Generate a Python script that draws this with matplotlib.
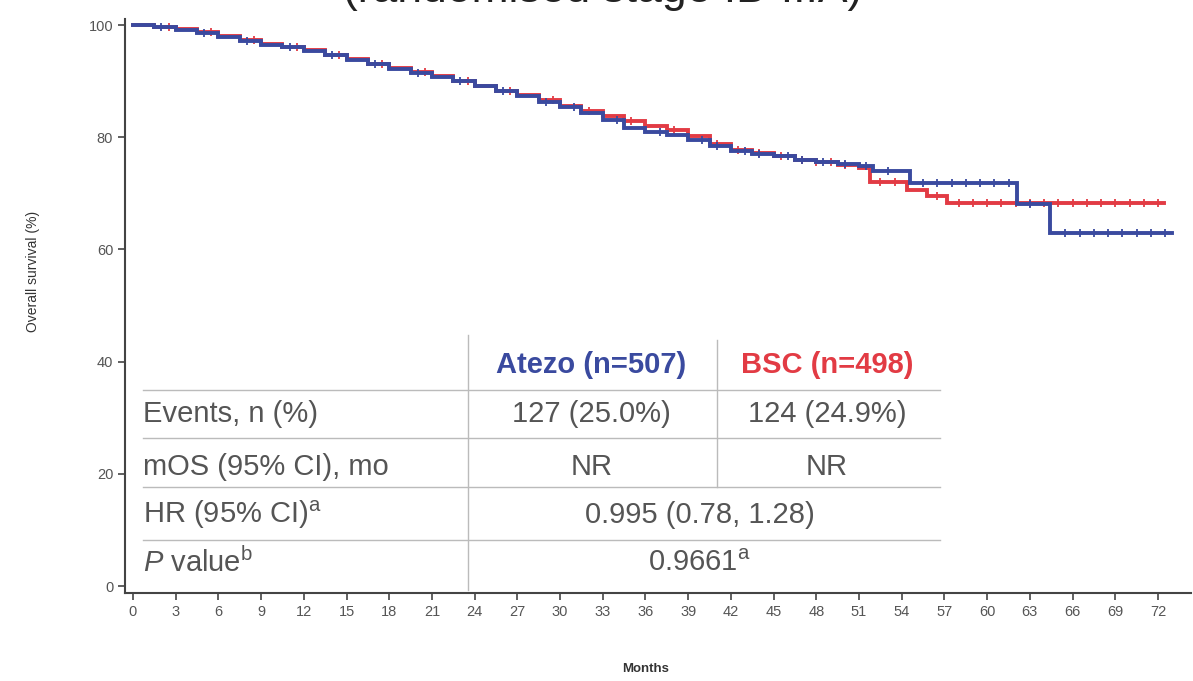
import numpy as np
import matplotlib
matplotlib.use('Agg')
import matplotlib.pyplot as plt

plt.rcParams['font.family'] = ['Liberation Sans', 'DejaVu Sans']
plt.rcParams['mathtext.fontset'] = 'custom'
plt.rcParams['mathtext.rm'] = 'Liberation Sans'
plt.rcParams['mathtext.it'] = 'Liberation Sans:italic'

#----------survival curves (step points)----------
atezo_t = [0, 1.5, 3, 4.5, 6, 7.5, 9, 10.5, 12, 13.5, 15, 16.5, 18, 19.5, 21, 22.5,
           24, 25.5, 27, 28.5, 30, 31.5, 33, 34.5, 36, 37.5, 39, 40.5, 42, 43.5,
           45, 46.5, 48, 49.5, 51, 52, 54.6, 62.1, 64.4]
atezo_s = [100, 99.6, 99.1, 98.6, 97.9, 97.2, 96.5, 96.0, 95.4, 94.6, 93.8, 93.0,
           92.2, 91.5, 90.8, 90.0, 89.1, 88.2, 87.3, 86.3, 85.3, 84.4, 83.0, 81.6,
           81.0, 80.4, 79.5, 78.4, 77.6, 77.0, 76.6, 76.0, 75.6, 75.2, 74.8, 74.0,
           71.8, 68.1, 63.0]
atezo_end = 73.0

bsc_t = [0, 1.5, 3, 4.5, 6, 7.5, 9, 10.5, 12, 13.5, 15, 16.5, 18, 19.5, 21, 22.5,
         24, 25.5, 27, 28.5, 30, 31.5, 33, 34.5, 36, 37.5, 39, 40.5, 42, 43.5,
         45, 46.5, 48, 49.5, 51, 51.8, 54.4, 55.8, 57.2]
bsc_s = [100, 99.7, 99.3, 98.7, 98.0, 97.3, 96.6, 96.1, 95.5, 94.7, 93.9, 93.1,
         92.4, 91.7, 90.9, 90.1, 89.2, 88.3, 87.5, 86.6, 85.6, 84.6, 83.8, 82.9,
         82.0, 81.3, 80.2, 78.8, 77.8, 77.1, 76.6, 76.0, 75.5, 75.0, 74.6, 72.0,
         70.6, 69.6, 68.3]
bsc_end = 72.4

# censoring times
atezo_cens = [2, 5, 8, 11, 14, 17, 20, 23, 26, 29, 31, 34, 37, 40, 41, 43, 44, 46, 47,
              48.5, 50, 51.5, 53, 55.5, 56.5, 57.5, 58.5, 59.5, 60.5, 61.5, 63, 65.5,
              66.5, 67.5, 68.5, 69.5, 70.5, 71.5, 72.5]
bsc_cens = [2.5, 5.5, 8.5, 11.5, 14.5, 17.5, 20.5, 23.5, 26.5, 29.5, 32, 35, 38, 41,
            42.5, 44, 45.5, 47, 48, 49, 50, 52.5, 53.5, 56.5, 58, 59, 60, 61, 62,
            63, 64, 65, 66, 67, 68, 69, 70, 71, 72]

x_ticks = list(range(0, 73, 3))
y_ticks = [0, 20, 40, 60, 80, 100]

row_labels = ['Events, n (%)', 'mOS (95% CI), mo', r'HR (95% CI)$^{\mathrm{a}}$',
              r'$\mathit{P}$ value$^{\mathrm{b}}$']
atezo_col = ['127 (25.0%)', 'NR']
bsc_col = ['124 (24.9%)', 'NR']
merged_col = ['0.995 (0.78, 1.28)', r'0.9661$^{\mathrm{a}}$']

blue = '#3A4A9F'
red = '#E23B44'
gray = '#555555'


def step_at(t, s, x):
    idx = np.searchsorted(t, x, side='right') - 1
    return np.asarray(s)[idx]


fig = plt.figure(figsize=(11.93, 6.81), dpi=100)
ax = fig.add_axes([0.1048, 0.1292, 0.8933, 0.8423])

for t, s, end, cens, col in [(bsc_t, bsc_s, bsc_end, bsc_cens, red),
                             (atezo_t, atezo_s, atezo_end, atezo_cens, blue)]:
    tt = list(t) + [end]
    ss = list(s) + [s[-1]]
    ax.step(tt, ss, where='post', color=col, lw=2.8, solid_joinstyle='miter')
    ax.plot(cens, step_at(t, s, cens), '|', color=col, ms=6, mew=1.3)

ax.set_xlim(-0.56, 74.3)
ax.set_ylim(-1.25, 101)
ax.set_xticks(x_ticks)
ax.set_yticks(y_ticks)
ax.tick_params(colors='#444444', labelcolor=gray, labelsize=10.5, length=5, width=1.2)
for sp in ['top', 'right']:
    ax.spines[sp].set_visible(False)
for sp in ['left', 'bottom']:
    ax.spines[sp].set_color('#444444')
    ax.spines[sp].set_linewidth(1.5)
ax.set_ylabel('Overall survival (%)', fontsize=10, color='#333333')
ax.yaxis.set_label_coords(-0.080, 0.56)
ax.set_xlabel('Months', fontsize=9.5, color='#333333', fontweight='bold')
ax.xaxis.set_label_coords(0.488, -0.122)

#----------table inside the plot----------
line_kw = dict(color='#BBBBBB', lw=1.0)
for yl in [35.0, 26.4, 17.6, 8.2]:
    ax.plot([0.7, 56.7], [yl, yl], **line_kw)
ax.plot([23.5, 23.5], [-0.7, 44.7], **line_kw)
ax.plot([41.0, 41.0], [17.6, 43.9], **line_kw)

fs = 21
col2_x, col3_x, merged_x = 32.2, 48.75, 39.8
ax.text(col2_x, 39.4, 'Atezo (n=507)', color=blue, fontsize=fs, fontweight='bold',
        ha='center', va='center')
ax.text(col3_x, 39.4, 'BSC (n=498)', color=red, fontsize=fs, fontweight='bold',
        ha='center', va='center')
row_y = [30.6, 21.3, 12.7, 4.1]
for yv, lab in zip(row_y, row_labels):
    ax.text(0.7, yv, lab, color=gray, fontsize=fs, ha='left', va='center')
for yv, a, b in zip(row_y[:2], atezo_col, bsc_col):
    ax.text(col2_x, yv, a, color=gray, fontsize=fs, ha='center', va='center')
    ax.text(col3_x, yv, b, color=gray, fontsize=fs, ha='center', va='center')
for yv, m in zip(row_y[2:], merged_col):
    ax.text(merged_x, yv, m, color=gray, fontsize=fs, ha='center', va='center')

# title sits mostly above the picture, only its lower edge shows
fig.text(0.505, 1 - 2 / 681, '(randomised stage IB-IIIA)', fontsize=32,
         ha='center', va='baseline', color='#222222')

fig.savefig('out.png', dpi=100)
